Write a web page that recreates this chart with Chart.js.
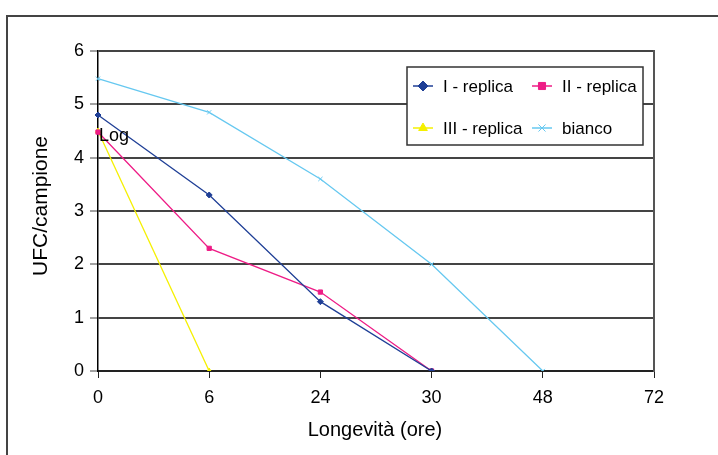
<!DOCTYPE html>
<html>
<head>
<meta charset="utf-8">
<script src="https://cdn.jsdelivr.net/npm/chart.js@4/dist/chart.umd.min.js"></script>
<style>
  html, body { margin:0; padding:0; background:#fff; }
  #wrap { position:relative; width:718px; height:455px; }
  #frame { position:absolute; left:6px; top:15px; right:0; bottom:0; border-left:2px solid #444; border-top:2px solid #444; }
  canvas { position:absolute; left:0; top:0; }
</style>
</head>
<body>
<div id="wrap">
  <div id="frame"></div>
  <canvas id="chart" width="718" height="455"></canvas>
</div>
<script>
// ore di longevità (asse x a categorie)
let ore = ["0","6","24","30","48","72"];
let replica1 = [4.8, 3.3, 1.3, 0, null, null];
let replica2 = [4.48, 2.3, 1.48, 0, null, null];
let replica3 = [4.5, 0, null, null, null, null];
let bianco = [5.48, 4.85, 3.6, 2.0, 0, null];
let yTicks = [0,1,2,3,4,5,6];

let fontName = "'Liberation Sans', Arial, sans-serif";

// titoli assi, etichetta "Log" e legenda dentro il grafico
let extras = {
  id:"extras",
  afterDraw(chart){
    let ctx = chart.ctx;
    let area = chart.chartArea;
    let xs = chart.scales.x, ys = chart.scales.y;

    ctx.save();
    // bordo destro area del grafico
    ctx.strokeStyle = "#555";
    ctx.lineWidth = 2;
    ctx.beginPath();
    ctx.moveTo(area.right, area.top - 1);
    ctx.lineTo(area.right, area.bottom + 1);
    ctx.stroke();

    // titoli assi
    ctx.fillStyle = "#000";
    ctx.textAlign = "center";
    ctx.textBaseline = "middle";
    ctx.font = "20px " + fontName;
    ctx.fillText("Longevità (ore)", 375, 430);
    ctx.save();
    ctx.translate(41, 206);
    ctx.rotate(-Math.PI/2);
    ctx.font = "21px " + fontName;
    ctx.fillText("UFC/campione", 0, 0);
    ctx.restore();

    // etichetta "Log"
    ctx.font = "18px " + fontName;
    ctx.textAlign = "left";
    ctx.fillText("Log", xs.getPixelForValue(0) + 1, ys.getPixelForValue(4.5) + 5);

    // riquadro legenda
    let bx = 407, by = 67, bw = 236, bh = 78;
    ctx.fillStyle = "#fff";
    ctx.fillRect(bx, by, bw, bh);
    ctx.strokeStyle = "#333";
    ctx.lineWidth = 1.5;
    ctx.strokeRect(bx, by, bw, bh);

    let cells = [[413, 86], [532, 86], [413, 128], [532, 128]];
    chart.data.datasets.forEach((ds, i)=>{
      let [lx, ly] = cells[i];
      ctx.strokeStyle = ds.borderColor;
      ctx.fillStyle = ds.borderColor;
      ctx.lineWidth = 1.5;
      ctx.beginPath();
      ctx.moveTo(lx, ly);
      ctx.lineTo(lx + 20, ly);
      ctx.stroke();
      ctx.lineWidth = 1;
      Chart.helpers.drawPoint(ctx, {
        pointStyle: ds.pointStyle,
        radius: ds.pointRadius + 2,
        borderWidth: 1
      }, lx + 10, ly);
      ctx.fillStyle = "#000";
      ctx.font = "17px " + fontName;
      ctx.textAlign = "left";
      ctx.textBaseline = "middle";
      ctx.fillText(ds.label, lx + 30, ly + 1);
    });
    ctx.restore();
  }
};

function pointColors(ds){
  ds.pointBackgroundColor = ds.borderColor;
  ds.pointBorderColor = ds.borderColor;
  return ds;
}

let ctx = document.getElementById("chart").getContext("2d");
new Chart(ctx, {
  type:"line",
  data:{
    labels: ore,
    datasets:[
      pointColors({label:"I - replica", data:replica1, borderColor:"#1f3f96", pointStyle:"rectRot", pointRadius:3}),
      pointColors({label:"II - replica", data:replica2, borderColor:"#ee1c86", pointStyle:"rect", pointRadius:3}),
      pointColors({label:"III - replica", data:replica3, borderColor:"#f5f000", pointStyle:"triangle", pointRadius:3}),
      pointColors({label:"bianco", data:bianco, borderColor:"#66c8f0", pointStyle:"crossRot", pointRadius:3})
    ].map(ds=>Object.assign(ds, {borderWidth:1.3, fill:false, tension:0, pointBorderWidth:1}))
  },
  options:{
    responsive:false,
    animation:false,
    layout:{padding:{left:0, top:51, right:64, bottom:0}},
    plugins:{legend:{display:false}, tooltip:{enabled:false}},
    scales:{
      x:{
        type:"category",
        offset:false,
        grid:{drawOnChartArea:false, drawTicks:true, tickLength:7, color:"#222", lineWidth:1},
        border:{color:"#222", width:2},
        ticks:{color:"#000", font:{family:fontName, size:18}, padding:9, maxRotation:0},
        afterFit(scale){ scale.height = 84; }
      },
      y:{
        min:0, max:6,
        afterBuildTicks(scale){ scale.ticks = yTicks.map(v=>({value:v})); },
        grid:{color:"#444", lineWidth:2, tickLength:8, tickColor:"#444", tickWidth:1},
        border:{color:"#000", width:1.5},
        ticks:{color:"#000", font:{family:fontName, size:18}, padding:6},
        afterFit(scale){ scale.width = 98; }
      }
    }
  },
  plugins:[extras]
});
</script>
</body>
</html>
